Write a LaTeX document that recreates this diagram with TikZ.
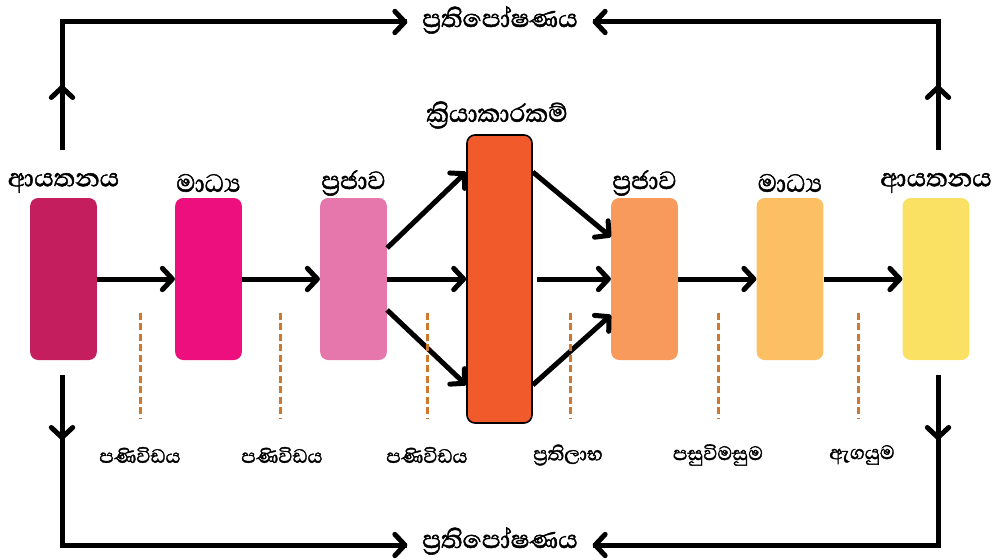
\documentclass[tikz,border=0pt]{standalone}
\usepackage{fontspec}
\usepackage{tikz}
\usetikzlibrary{arrows.meta,calc,positioning}
\newfontfamily\sifont[Script=Sinhala,AutoFakeBold=1.5]{Abhaya Libre}
\definecolor{srcA}{RGB}{196,30,94}
\definecolor{medA}{RGB}{237,15,125}
\definecolor{comA}{RGB}{230,119,173}
\definecolor{actC}{RGB}{241,90,43}
\definecolor{comB}{RGB}{247,154,91}
\definecolor{medB}{RGB}{253,191,99}
\definecolor{srcB}{RGB}{250,224,99}
\definecolor{msgC}{RGB}{207,120,45}

\begin{document}
\begin{tikzpicture}[x=0.75pt,y=-0.75pt,
	box/.style={rectangle,rounded corners=6pt,minimum width=50pt,minimum height=121.5pt,inner sep=0pt},
	ttl/.style={font=\sifont\bfseries\fontsize{24}{28}\selectfont},
	msg/.style={font=\sifont\bfseries\fontsize{18.5}{22}\selectfont},
	arr/.style={line width=3.75pt,-{Straight Barb[length=7.5pt,width=16pt,round]}},
	ln/.style={line width=3.75pt},
	msgline/.style={msgC,line width=2.25pt,dash pattern=on 5.25pt off 2.6pt}] %Kommunikation
		\useasboundingbox (0,0) rectangle (1004,560);
		% Kaesten
		\node[box,fill=srcA] (src1) at (63.5,279) {};
		\node[box,fill=medA] (med1) at (208.5,279) {};
		\node[box,fill=comA] (com1) at (353.5,279) {};
		\node[box,fill=actC,draw=black,line width=1.2pt,minimum width=48.75pt,minimum height=216pt] (act) at (499.5,279) {};
		\node[box,fill=comB] (com2) at (644.5,279) {};
		\node[box,fill=medB] (med2) at (790,279) {};
		\node[box,fill=srcB] (src2) at (936,279) {};
		% Ueberschriften
		\node[ttl] at (63.5,183) {ආයතනය};
		\node[ttl] at (208.5,183) {මාධ්‍ය};
		\node[ttl] at (353.5,183) {ප්‍රජාව};
		\node[ttl] at (497,115) {ක්‍රියාකාරකම්};
		\node[ttl] at (644.5,183) {ප්‍රජාව};
		\node[ttl] at (790,183) {මාධ්‍ය};
		\node[ttl] at (936,183) {ආයතනය};
		% Pfeile
		\draw[arr] (src1.east) -- (med1.west);
		\draw[arr] (med1.east) -- (com1.west);
		\draw[arr] ($(com1.east)+(0,-31)$) -- ($(act.west)+(0,-107)$);
		\draw[arr] (com1.east) -- (act.west);
		\draw[arr] ($(com1.east)+(0,31)$) -- ($(act.west)+(0,106)$);
		\draw[arr] ($(act.east)+(0,-107)$) -- ($(com2.west)+(0,-42)$);
		\draw[arr] ($(act.east)+(4,0)$) -- (com2.west);
		\draw[arr] ($(act.east)+(0,106)$) -- ($(com2.west)+(0,36)$);
		\draw[arr] (com2.east) -- (med2.west);
		\draw[arr] (med2.east) -- (src2.west);
		% Botschaften
		\foreach \x/\xt/\t in {140/140/පණිවිඩය,280/282/පණිවිඩය,427/427/පණිවිඩය,570/568/ප්‍රතිලාභ,718/718/පසුවිමසුම,858/862/ඇගයුම}{
			\draw[msgline] (\x,313) -- (\x,418);
			\node[msg] at (\xt,455) {\t};
		}
		% Rueckkopplung
		\node[ttl,inner xsep=11pt] (fbtop) at (500,20) {ප්‍රතිපෝෂණය};
		\node[ttl,inner xsep=11pt] (fbbot) at (500,541) {ප්‍රතිපෝෂණය};
		\coordinate (tl) at (62,150);
		\coordinate (tr) at (938,150);
		\coordinate (bl) at (62,375);
		\coordinate (br) at (938,375);
		\draw[arr] (tl) -- (62,85);
		\draw[ln] (62,90) -- (62,22) -- (fbtop.west |- 0,22);
		\draw[arr] (62,22) -- (fbtop.west |- 0,22);
		\draw[arr] (tr) -- (938,85);
		\draw[ln] (938,90) -- (938,22) -- (fbtop.east |- 0,22);
		\draw[arr] (938,22) -- (fbtop.east |- 0,22);
		\draw[arr] (bl) -- (62,440);
		\draw[ln] (62,435) -- (62,545) -- (fbbot.west |- 0,545);
		\draw[arr] (62,545) -- (fbbot.west |- 0,545);
		\draw[arr] (br) -- (938,440);
		\draw[ln] (938,435) -- (938,545) -- (fbbot.east |- 0,545);
		\draw[arr] (938,545) -- (fbbot.east |- 0,545);
\end{tikzpicture}
\end{document}
